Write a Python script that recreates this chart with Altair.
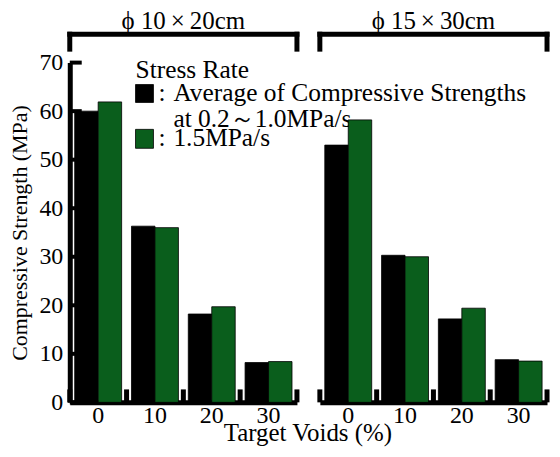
import altair as alt
import pandas as pd

voids = ["0", "10", "20", "30"]
series = ["avg", "1.5"]
small_black = [60.0, 36.3, 18.2, 8.2]
small_green = [61.9, 36.0, 19.7, 8.4]
large_black = [53.0, 30.3, 17.2, 8.8]
large_green = [58.2, 30.0, 19.4, 8.5]
y_ticks = [0, 10, 20, 30, 40, 50, 60, 70]
panel_titles = ["\u03d5 10\u2009\u00d7\u200920cm", "\u03d5 15\u2009\u00d7\u200930cm"]
legend_title = "Stress Rate"
legend_labels = ["Average of Compressive Strengths", "at 0.2\uff5e1.0MPa/s", "1.5MPa/s"]
colors = ["#000000", "#0a5e1c"]
x_title = "Target Voids (%)"
y_title = "Compressive Strength (MPa)"

FONT = "Times New Roman, Liberation Serif, DejaVu Serif, serif"
FS = 24
LFS = 25.5
W = 228
H = 341
one = pd.DataFrame({"t": [0]})


def rule(**enc):
    return alt.Chart(one).mark_rule(color="black", strokeWidth=5).encode(**enc)


def text(s, x, y, size=LFS, align="left"):
    return alt.Chart(pd.DataFrame({"s": [s]})).mark_text(
        font=FONT, fontSize=size, align=align, baseline="middle", color="black"
    ).encode(x=alt.value(x), y=alt.value(y), text="s:N")


def panel(black, green, title, left):
    df = pd.DataFrame({
        "void": voids * 2,
        "series": [series[0]] * 4 + [series[1]] * 4,
        "value": black + green,
    })
    yscale = alt.Scale(domain=[0, 70], nice=False, zero=True)
    yaxis = alt.Axis(
        values=y_ticks, ticks=False, grid=False, domainWidth=5, domainColor="black",
        labelFont=FONT, labelFontSize=FS, labelPadding=7, labelColor="black",
        title=y_title, titleFont=FONT, titleFontSize=22, titleFontWeight="normal",
        titlePadding=7, titleColor="black",
    ) if left else None
    xaxis = alt.Axis(
        title=None, labelAngle=0, ticks=False, grid=False, domainWidth=5,
        domainColor="black", labelFont=FONT, labelFontSize=FS, labelPadding=1,
        labelColor="black",
    )
    xscale = alt.Scale(domain=voids, paddingInner=0, paddingOuter=0)
    bars = alt.Chart(df).mark_bar(stroke="black", strokeWidth=0.8).encode(
        x=alt.X("void:N", sort=voids, scale=xscale, axis=xaxis),
        xOffset=alt.XOffset("series:N", sort=series,
                            scale=alt.Scale(domain=series, paddingInner=0, paddingOuter=0.21)),
        y=alt.Y("value:Q", scale=yscale, axis=yaxis, title=y_title if left else None),
        color=alt.Color("series:N", scale=alt.Scale(domain=series, range=colors), legend=None),
    )
    bdf = pd.DataFrame({"void": voids})
    btick = alt.Chart(bdf).mark_rule(color="black", strokeWidth=5).encode(
        x=alt.X("void:N", sort=voids, bandPosition=1, title=None),
        y=alt.value(H - 13), y2=alt.value(H),
    )
    btick0 = alt.Chart(pd.DataFrame({"void": voids[:1]})).mark_rule(color="black", strokeWidth=5).encode(
        x=alt.X("void:N", sort=voids, bandPosition=0, title=None),
        y=alt.value(H - 13), y2=alt.value(H),
    )
    layers = [bars, btick, btick0]
    layers += [
        rule(x=alt.value(-2.5), x2=alt.value(W + 2.5), y=alt.value(-28.5)),
        rule(x=alt.value(0), y=alt.value(-31), y2=alt.value(-11)),
        rule(x=alt.value(W), y=alt.value(-31), y2=alt.value(-11)),
        text(title, W / 2, -41.5, size=25, align="center"),
    ]
    if left:
        tdf = pd.DataFrame({"tick": y_ticks})
        layers.append(
            alt.Chart(tdf).mark_rule(color="black", strokeWidth=4).encode(
                y=alt.Y("tick:Q", scale=yscale, title=y_title),
                x=alt.value(0), x2=alt.value(12),
            )
        )
        ldf = pd.DataFrame({"series": series})
        cenc = alt.Color("series:N", scale=alt.Scale(domain=series, range=colors), legend=None)
        layers.append(
            alt.Chart(ldf).mark_rect(stroke="black", strokeWidth=0.8).encode(
                x=alt.value(66), x2=alt.value(84), y=alt.value(22), y2=alt.value(40), color=cenc,
            ).transform_filter("datum.series=='avg'")
        )
        layers.append(
            alt.Chart(ldf).mark_rect(stroke="black", strokeWidth=0.8).encode(
                x=alt.value(66), x2=alt.value(84), y=alt.value(67), y2=alt.value(86), color=cenc,
            ).transform_filter("datum.series=='1.5'")
        )
        layers += [
            text(legend_title, 66, 7),
            text(":", 89, 31),
            text(legend_labels[0], 104, 31),
            text(legend_labels[1], 104, 57),
            text(":", 89, 76),
            text(legend_labels[2], 104, 76),
            text(x_title, 239, H + 31, size=25, align="center"),
        ]
    return alt.layer(*layers).properties(width=W, height=H)


left = panel(small_black, small_green, panel_titles[0], True)
right = panel(large_black, large_green, panel_titles[1], False)

chart = alt.hconcat(left, right, spacing=23, bounds="flush").configure_view(
    stroke=None
).properties(padding={"left": 1, "top": 0, "right": 0, "bottom": 0})

chart.save("out.html", embed_options={"renderer": "svg", "actions": False})
